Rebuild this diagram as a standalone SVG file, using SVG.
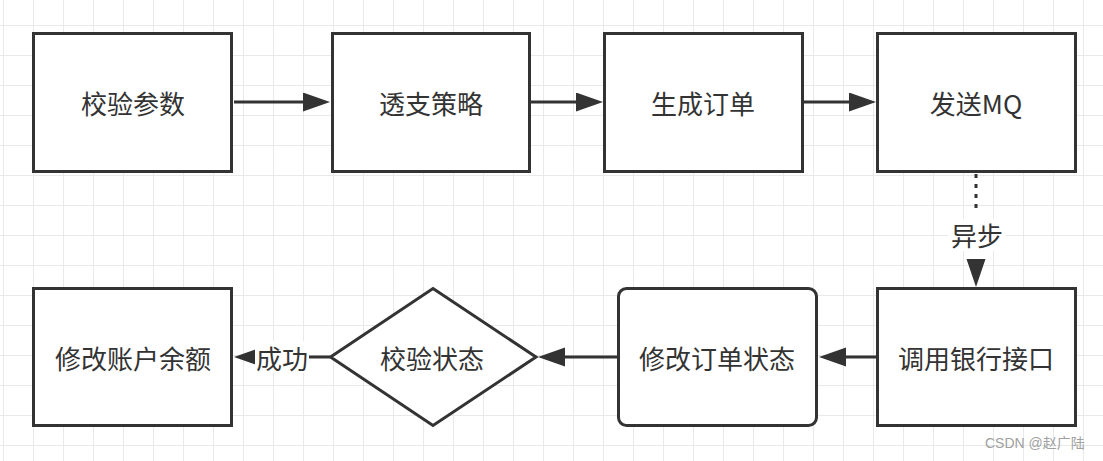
<svg xmlns="http://www.w3.org/2000/svg" width="1103" height="461" viewBox="0 0 1103 461">
  <style>
    .box { fill: #ffffff; stroke: #333333; stroke-width: 3; }
    .lbl { font-family: "Noto Sans CJK SC", "Noto Sans", sans-serif; font-size: 26px; fill: #333333; text-anchor: middle; dominant-baseline: central; }
    .edge { fill: none; stroke: #333333; stroke-width: 3; }
    .head { fill: #333333; }
    .wm { font-family: "Liberation Sans", "Noto Sans CJK SC", sans-serif; font-size: 14px; fill: #a0a0a0; }
  </style>
  <defs>
    <pattern id="grid" x="3" y="25" width="30" height="30" patternUnits="userSpaceOnUse">
      <path d="M0,0 V30 M0,0 H30" fill="none" stroke="#e9e9e9" stroke-width="2"/>
    </pattern>
    <marker id="arrow" markerUnits="userSpaceOnUse" markerWidth="28" markerHeight="20" refX="0" refY="9.5" orient="auto">
      <path d="M0,0 L27,9.5 L0,19 Z" fill="#333333"/>
    </marker>
  </defs>
  <rect x="0" y="0" width="1103" height="461" fill="#ffffff"/>
  <rect x="0" y="0" width="1103" height="461" fill="url(#grid)"/>

  <g id="connectors">
    <line class="edge" x1="234" y1="102" x2="303" y2="102" marker-end="url(#arrow)"/>
    <line class="edge" x1="531" y1="102" x2="576" y2="102" marker-end="url(#arrow)"/>
    <line class="edge" x1="804" y1="102" x2="849" y2="102" marker-end="url(#arrow)"/>
    <line class="edge" x1="976" y1="174" x2="976" y2="212" stroke-dasharray="4 6"/>
    <polygon class="head" points="966.5,259 985.5,259 976,287"/>
    <rect x="948" y="219" width="58" height="32" fill="#ffffff"/>
    <text class="lbl" x="977" y="234">异步</text>
    <line class="edge" x1="876" y1="357" x2="846" y2="357" marker-end="url(#arrow)"/>
    <line class="edge" x1="617" y1="357" x2="565" y2="357" marker-end="url(#arrow)"/>
    <line class="edge" x1="330" y1="357" x2="261" y2="357" marker-end="url(#arrow)"/>
    <rect x="255" y="341" width="54" height="32" fill="#ffffff"/>
    <text class="lbl" x="282" y="357">成功</text>
  </g>

  <g id="node-check-params">
    <rect class="box" x="33.5" y="33.5" width="198" height="138"/>
    <text class="lbl" x="133" y="102">校验参数</text>
  </g>
  <g id="node-strategy">
    <rect class="box" x="332.5" y="33.5" width="197" height="138"/>
    <text class="lbl" x="431" y="102">透支策略</text>
  </g>
  <g id="node-create-order">
    <rect class="box" x="604.5" y="33.5" width="198" height="138"/>
    <text class="lbl" x="703" y="102">生成订单</text>
  </g>
  <g id="node-send-mq">
    <rect class="box" x="877.5" y="33.5" width="198" height="138"/>
    <text class="lbl" x="976" y="102">发送MQ</text>
  </g>
  <g id="node-call-bank">
    <rect class="box" x="877.5" y="288.5" width="198" height="137"/>
    <text class="lbl" x="976" y="357">调用银行接口</text>
  </g>
  <g id="node-update-order">
    <rect class="box" x="618.5" y="288.5" width="198" height="137" rx="8" ry="8"/>
    <text class="lbl" x="717" y="357">修改订单状态</text>
  </g>
  <g id="node-check-status">
    <polygon class="box" points="433,288.5 536,357 433,425.5 330.5,357"/>
    <text class="lbl" x="432" y="357">校验状态</text>
  </g>
  <g id="node-update-balance">
    <rect class="box" x="33.5" y="288.5" width="198" height="137"/>
    <text class="lbl" x="133" y="357">修改账户余额</text>
  </g>

  <text class="wm" x="985" y="448">CSDN @赵广陆</text>
</svg>
